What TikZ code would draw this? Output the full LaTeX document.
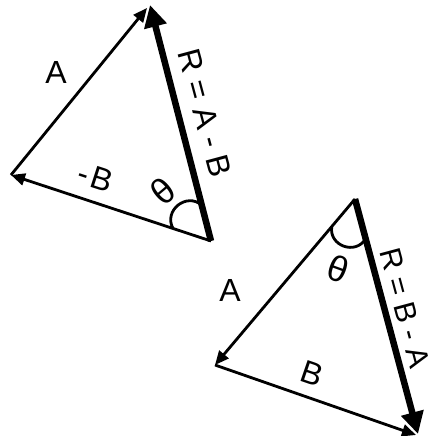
\documentclass[tikz,border=0pt]{standalone}
\usepackage{fontspec}
\setmainfont{Liberation Sans}
\usetikzlibrary{arrows.meta,calc}
\begin{document}
\begin{tikzpicture}[x=1pt,y=-1pt,
  thinvec/.style={line width=2.8pt,-{Triangle[length=14pt,width=12pt]}},
  thickvec/.style={line width=6.5pt,-{Triangle[length=22pt,width=22pt]}},
  lbl/.style={font=\fontsize{32}{38}\selectfont, inner sep=0pt},
  thlbl/.style={font=\fontsize{36}{42}\selectfont, inner sep=0pt},
  angarc/.style={line width=2.8pt}]
\useasboundingbox (0,0) rectangle (431,436);
% top triangle
\coordinate (L1) at (11,175);
\coordinate (T1) at (150,5);
\coordinate (T1a) at (147,8);
\coordinate (P1) at (211,241);
\draw[thinvec] (L1) -- (T1a);
\draw[thinvec] (P1) -- (L1);
\draw[thickvec] (P1) -- (T1);
\coordinate (a1) at ($(P1)!40pt!(L1)$);
\coordinate (a2) at ($(P1)!37pt!(T1)$);
\draw[angarc] (a1) to[bend left=80, looseness=1.4] (a2);
% bottom triangle
\coordinate (T2) at (355,199);
\coordinate (L2) at (215,365);
\coordinate (P2) at (418,434);
\coordinate (P2b) at (416,435);
\draw[thinvec] (T2) -- (L2);
\draw[thinvec] (L2) -- (P2b);
\draw[thickvec] (T2) -- (P2);
\coordinate (b1) at ($(T2)!36pt!(L2)$);
\coordinate (b2) at ($(T2)!41pt!(P2)$);
\draw[angarc] (b1) to[bend right=80, looseness=1.4] (b2);
% labels
\node[lbl] (la1) at (56,72) {A};
\node[lbl, rotate=-18] (lnb) at (96,177) {-\kern3ptB};
\node[thlbl, rotate=40] (th1) at (163,191) {θ};
\node[lbl, rotate=-75] (r1) at (205,113) {R = A - B};
\node[thlbl, rotate=-20] (th2) at (338,269) {θ};
\node[lbl] (la2) at (230,290) {A};
\node[lbl, rotate=-19] (lb2) at (312,374) {B};
\node[lbl, font=\fontsize{30}{36}\selectfont, rotate=-75] (r2) at (405,308) {R = B - A};
\end{tikzpicture}
\end{document}
